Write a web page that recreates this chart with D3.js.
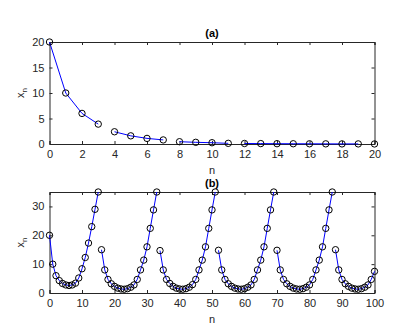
<!DOCTYPE html>
<html>
<head>
<meta charset="utf-8">
<script src="https://cdn.jsdelivr.net/npm/d3@7"></script>
<style>
  body { margin: 0; background: #fff; }
  text { font-family: "Liberation Sans", Arial, sans-serif; }
</style>
</head>
<body>
<script>
// panel (a): x_n for n = 0..20
var aValues = [20, 10, 6, 3.9, 2.4, 1.6, 1.1, 0.8, 0.45, 0.33, 0.25, 0.13, 0.1, 0.08, 0.06, 0.05, 0.04, 0.03, 0.02, 0.02, 0.01];
var aBreaks = [4, 8, 12, 20];          // line restarts at these n
var aYTicks = [0, 5, 10, 15, 20];
var aXTicks = [0, 2, 4, 6, 8, 10, 12, 14, 16, 18, 20];

// panel (b): x_n for n = 0..100
var bValues = [
  20, 10, 6, 4.3, 3.3, 2.8, 2.6, 2.8, 3.4, 5.2, 8.4, 12.3, 17.3, 23, 29, 35,
  15, 8, 4.7, 3.2, 2.3, 1.7, 1.4, 1.3, 1.5, 2, 2.8, 4.7, 8, 11.4, 16, 22.4, 28.8, 35,
  14.7, 8, 4.7, 3.3, 2.3, 1.7, 1.4, 1.3, 1.5, 2, 2.9, 4.7, 8, 11.4, 16, 22.4, 28.8, 35,
  14.8, 8, 4.7, 3.2, 2.3, 1.7, 1.4, 1.3, 1.5, 2, 2.8, 4.7, 8, 11.4, 16, 22.4, 28.8, 35,
  14.8, 8, 4.7, 3.2, 2.3, 1.7, 1.4, 1.3, 1.5, 2, 2.8, 4.7, 8, 11.4, 16, 22.4, 28.8, 35,
  15, 8, 4.7, 3.2, 2.3, 1.7, 1.4, 1.3, 1.5, 2, 2.8, 4.7, 7.5
];
var bBreaks = [16, 34, 52, 70, 88];
var bYTicks = [0, 10, 20, 30];
var bXTicks = [0, 10, 20, 30, 40, 50, 60, 70, 80, 90, 100];

var W = 398, H = 333;
var svg = d3.select("body").append("svg").attr("width", W).attr("height", H);

function segments(values, breaks) {
  var segs = [], cur = [];
  values.forEach(function(v, i) {
    if (breaks.indexOf(i) >= 0 && cur.length) { segs.push(cur); cur = []; }
    cur.push({n: i, v: v});
  });
  segs.push(cur);
  return segs;
}

function drawPanel(cfg) {
  var x = d3.scaleLinear().domain(cfg.xDomain).range([49.5, 374.5]);
  var y = d3.scaleLinear().domain(cfg.yDomain).range([cfg.bottom, cfg.top]);
  var g = svg.append("g");
  var ink = "#262626";

  // axes with inward ticks on all four sides
  var xb = g.append("g").attr("transform", "translate(0," + cfg.bottom + ")")
    .call(d3.axisBottom(x).tickValues(cfg.xTicks).tickSize(-3).tickPadding(6));
  var xt = g.append("g").attr("transform", "translate(0," + cfg.top + ")")
    .call(d3.axisTop(x).tickValues(cfg.xTicks).tickSize(-3).tickFormat(""));
  var yl = g.append("g").attr("transform", "translate(49.5,0)")
    .call(d3.axisLeft(y).tickValues(cfg.yTicks).tickSize(-3).tickPadding(5));
  var yr = g.append("g").attr("transform", "translate(374.5,0)")
    .call(d3.axisRight(y).tickValues(cfg.yTicks).tickSize(-3).tickFormat(""));
  [xb, xt, yl, yr].forEach(function(a) {
    a.selectAll("path").attr("stroke", ink).attr("stroke-width", 1);
    a.selectAll("line").attr("stroke", ink);
    a.selectAll("text").attr("fill", ink).style("font-size", "11px");
  });

  var line = d3.line().x(function(d) { return x(d.n); }).y(function(d) { return y(d.v); });
  g.append("g").selectAll("path")
    .data(segments(cfg.values, cfg.breaks))
    .enter().append("path")
    .attr("d", line)
    .attr("fill", "none")
    .attr("stroke", "#0000ff")
    .attr("stroke-width", 1);

  g.append("g").selectAll("circle")
    .data(cfg.values.map(function(v, i) { return {n: i, v: v}; }))
    .enter().append("circle")
    .attr("cx", function(d) { return x(d.n); })
    .attr("cy", function(d) { return y(d.v); })
    .attr("r", 3.2)
    .attr("fill", "none")
    .attr("stroke", "#000")
    .attr("stroke-width", 1);

  g.append("text").attr("x", 212).attr("y", cfg.top - 5)
    .attr("text-anchor", "middle").style("font-size", "11px").style("font-weight", "bold")
    .attr("fill", "#000").text(cfg.title);
  g.append("text").attr("x", 212).attr("y", cfg.bottom + 30)
    .attr("text-anchor", "middle").style("font-size", "11px").attr("fill", ink).text("n");

  var yc = (cfg.top + cfg.bottom) / 2;
  var yt = g.append("text").attr("transform", "translate(24," + yc + ") rotate(-90)")
    .attr("text-anchor", "middle").style("font-size", "11px").attr("fill", ink);
  yt.append("tspan").text("x");
  yt.append("tspan").attr("dy", 3).style("font-size", "8px").text("n");
}

drawPanel({title: "(a)", values: aValues, breaks: aBreaks, xDomain: [0, 20], yDomain: [0, 20],
           xTicks: aXTicks, yTicks: aYTicks, top: 42, bottom: 144});
drawPanel({title: "(b)", values: bValues, breaks: bBreaks, xDomain: [0, 100], yDomain: [0, 35],
           xTicks: bXTicks, yTicks: bYTicks, top: 192, bottom: 293});
</script>
</body>
</html>
